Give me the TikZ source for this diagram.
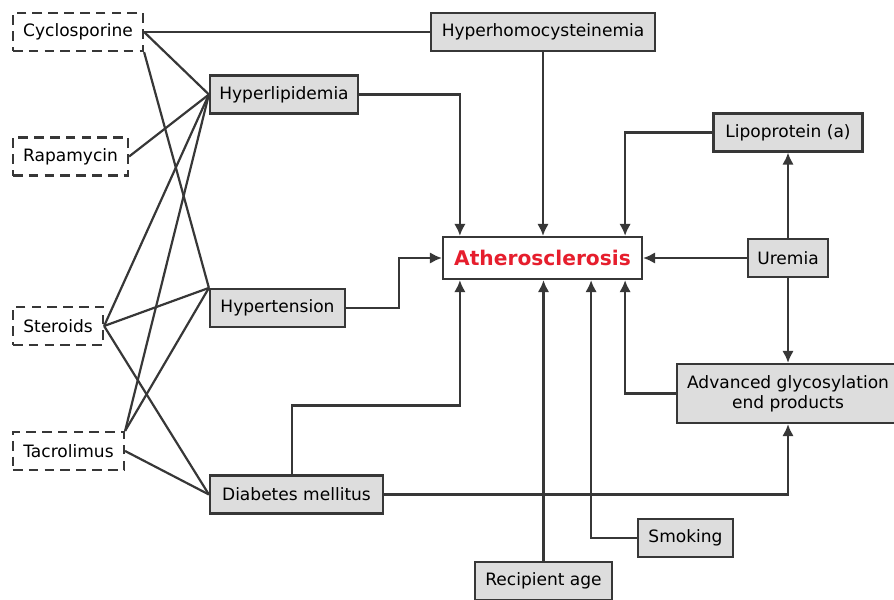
\documentclass[tikz,border=0pt]{standalone}
\usepackage{fontspec}
\setmainfont{DejaVu Sans}
\usetikzlibrary{arrows.meta, positioning, calc}

\begin{document}
\begin{tikzpicture}[
    font=\fontsize{9.7}{11.6}\selectfont,
    >={Latex[length=2.4mm, width=2.3mm]},
    % Define colors
    /utils/exec={
        \definecolor{athRed}{RGB}{230, 30, 45}
        \definecolor{boxGrey}{RGB}{221, 221, 221}
        \definecolor{lineGrey}{RGB}{55, 55, 55}
    },
    % Node Styles
    factor/.style={
        draw=lineGrey, line width=1.25pt, fill=boxGrey,
        minimum height=0.76cm, inner sep=2pt, align=center
    },
    drug/.style={
        draw=lineGrey, line width=1.25pt, dash pattern=on 5.5pt off 3.5pt,
        fill=white, minimum height=0.76cm, inner sep=2pt
    },
    target/.style={
        draw=lineGrey, line width=1.25pt, fill=white,
        minimum height=0.84cm, minimum width=3.98cm,
        font=\fontsize{11.5}{13}\selectfont\bfseries, text=athRed
    },
    conn/.style={->, line width=1.25pt, lineGrey},
    link/.style={line width=1.25pt, lineGrey}
]

\useasboundingbox (0, 0) rectangle (17.88, -11.98);

% =================================================================
% LEFT: IMMUNOSUPPRESSIVE DRUGS
% =================================================================
\node[drug, minimum width=2.6cm] (cyclo) at (1.56, -0.64) {Cyclosporine};
\node[drug, minimum width=2.3cm] (rapa) at (1.41, -3.13) {Rapamycin};
\node[drug, minimum width=1.8cm] (ster) at (1.16, -6.52) {Steroids};
\node[drug, minimum width=2.22cm] (tacro) at (1.37, -9.02) {Tacrolimus};

% --- Metabolic effects ---
\node[factor, minimum width=2.96cm] (hlip) at (5.68, -1.89) {Hyperlipidemia};
\node[factor, minimum width=2.7cm] (htn) at (5.55, -6.16) {Hypertension};
\node[factor, minimum width=3.46cm] (dm) at (5.93, -9.89) {Diabetes mellitus};

% =================================================================
% CENTER / RIGHT: RISK FACTORS
% =================================================================
\node[factor, minimum width=4.48cm] (hhcy) at (10.86, -0.64) {Hyperhomocysteinemia};
\node[factor, minimum width=2.98cm] (lpa) at (15.76, -2.65) {Lipoprotein (a)};
\node[target] (ath) at (10.85, -5.16) {Atherosclerosis};
\node[factor, minimum width=1.6cm] (urem) at (15.76, -5.16) {Uremia};
\node[factor, minimum width=4.44cm, minimum height=1.18cm] (age) at (15.76, -7.87) {Advanced glycosylation\\end products};
\node[factor, minimum width=1.9cm] (smok) at (13.71, -10.76) {Smoking};
\node[factor, minimum width=2.74cm] (rage) at (10.87, -11.62) {Recipient age};

% --- Entry points on Atherosclerosis ---
\coordinate (inHL) at ($(ath.north west) + (0.36, 0)$);
\coordinate (inLP) at ($(ath.north east) + (-0.36, 0)$);
\coordinate (inDM) at ($(ath.south west) + (0.36, 0)$);
\coordinate (inAG) at ($(ath.south east) + (-0.36, 0)$);
\coordinate (inSM) at ($(ath.south east) + (-1.04, 0)$);
\coordinate (dmUp) at ($(dm.north west) + (1.66, 0)$);

% Drug links
\draw[link] (cyclo.east) -- (hhcy.west);
\draw[link] (cyclo.east) -- (hlip.west);
\draw[link] (cyclo.south east) -- (htn.north west);
\draw[link] (rapa.east) -- (hlip.west);
\draw[link] (ster.east) -- (hlip.west);
\draw[link] (ster.east) -- (htn.north west);
\draw[link] (ster.east) -- (dm.west);
\draw[link] (tacro.north east) -- (hlip.west);
\draw[link] (tacro.north east) -- (htn.north west);
\draw[link] (tacro.east) -- (dm.west);

% Arrows into Atherosclerosis
\draw[conn] (hlip.east) -| (inHL);
\draw[conn] (hhcy.south) -- (hhcy.south |- ath.north);
\draw[conn] (lpa.west) -| (inLP);
\draw[conn] (urem) -- (ath);
\draw[conn] (htn.east) -- ++(1.06, 0) |- (ath.west);
\draw[conn] (dmUp) -- ++(0, 1.38) -| (inDM);
\draw[conn] (rage.north) -- (rage.north |- ath.south);
\draw[conn] (smok.west) -| (inSM);
\draw[conn] (age.west) -| (inAG);

% Uremia and glycosylation
\draw[conn] (urem) -- (lpa);
\draw[conn] (urem) -- (age);
\draw[conn] (dm.east) -| (age.south);

\end{tikzpicture}
\end{document}
